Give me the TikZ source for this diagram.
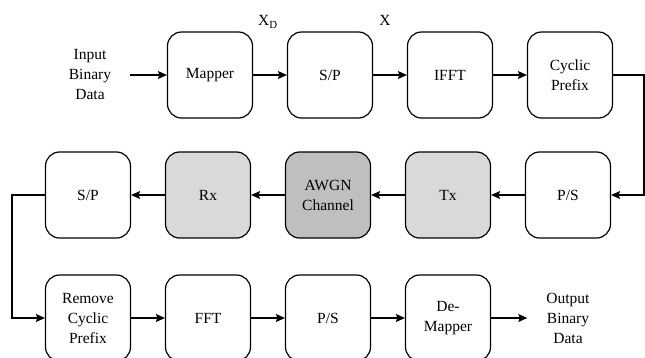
\documentclass[tikz,border=0pt]{standalone}
\usepackage{fontspec}
\setmainfont{Liberation Serif}
\newfontfamily\blkfont{Liberation Serif}
\usetikzlibrary{arrows.meta, positioning}

\definecolor{lgray}{HTML}{D9D9D9}
\definecolor{dgray}{HTML}{BFBFBF}

\tikzset{
	blk/.style={draw, line width=1.2pt, rounded corners=14pt, minimum width=85pt,
		minimum height=86pt, align=center, inner sep=2pt},
	txt/.style={align=center, inner xsep=19pt},
	flow/.style={line width=1.2pt, -{Stealth[length=9pt, width=8pt, inset=1.5pt]}}
}

\begin{document}
\begin{tikzpicture}[x=1pt, y=-1pt, node distance=120pt,
	font=\blkfont\fontsize{15.5}{20}\selectfont]
	\useasboundingbox (0,0) rectangle (645,358);
	\clip (0,0) rectangle (645,358);

	% first row
	\node[txt]              (in)                    at (90,75)  {Input\\Binary\\Data};
	\node[blk]              (map)  [right of=in]    {Mapper};
	\node[blk]              (sp1)  [right of=map]   {S/P};
	\node[blk]              (ifft) [right of=sp1]   {IFFT};
	\node[blk]              (cp)   [right of=ifft]  {Cyclic\\Prefix};

	% second row
	\node[blk]              (sp2)                   at (88,195) {S/P};
	\node[blk, fill=lgray]  (rx)   [right of=sp2]   {Rx};
	\node[blk, fill=dgray]  (awgn) [right of=rx]    {AWGN\\Channel};
	\node[blk, fill=lgray]  (tx)   [right of=awgn]  {Tx};
	\node[blk]              (ps1)  [right of=tx]    {P/S};

	% third row
	\node[blk]              (rcp)                   at (88,318) {Remove\\Cyclic\\Prefix};
	\node[blk]              (fft)  [right of=rcp]   {FFT};
	\node[blk]              (ps2)  [right of=fft]   {P/S};
	\node[blk]              (dmap) [right of=ps2]   {De-\\Mapper};
	\node[txt]              (out)  [right of=dmap]  {Output\\Binary\\Data};

	\node (xd) at (268,22) {X\textsubscript{D}};
	\node (x)  at (385,20) {X};

	\coordinate (re) at (644,75);
	\coordinate (le) at (12,195);

	\draw[flow] (in) -- (map);
	\draw[flow] (map) -- (sp1);
	\draw[flow] (sp1) -- (ifft);
	\draw[flow] (ifft) -- (cp);
	\draw[flow] (cp) -- (re) |- (ps1);
	\draw[flow] (ps1) -- (tx);
	\draw[flow] (tx) -- (awgn);
	\draw[flow] (awgn) -- (rx);
	\draw[flow] (rx) -- (sp2);
	\draw[flow] (sp2) -- (le) |- (rcp);
	\draw[flow] (rcp) -- (fft);
	\draw[flow] (fft) -- (ps2);
	\draw[flow] (ps2) -- (dmap);
	\draw[flow] (dmap) -- (out);
\end{tikzpicture}
\end{document}
